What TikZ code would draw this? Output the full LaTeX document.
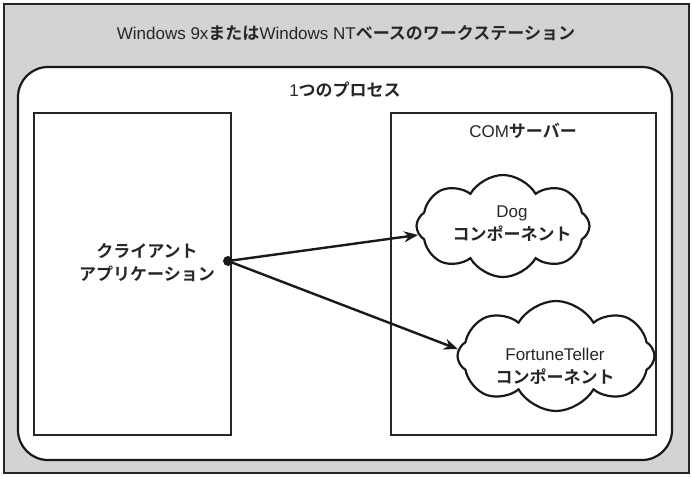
\documentclass[tikz,border=0pt]{standalone}
\usepackage{fontspec}
\setmainfont{Liberation Sans}
\newfontfamily\jp{Noto Sans CJK JP}[BoldFont={* Bold}]
\usetikzlibrary{shapes.symbols,arrows.meta}
\definecolor{bggray}{HTML}{D1D3D4}
\newcommand{\J}[1]{{\jp\bfseries #1}}
\tikzset{
  x=1pt,y=-1pt,
  frame/.style={draw=black!85,line width=1.8pt},
  lbl/.style={font=\fontsize{17}{23}\selectfont,text=black!85,align=center,inner sep=0pt},
  cloudshape/.style={cloud,cloud puffs=8,cloud puff arc=120,aspect=1.7,draw=black!90,line width=2.2pt,fill=white,inner sep=0pt},
  conn/.style={line width=2.4pt,draw=black!90,-{Stealth[length=14pt,width=11pt]}}
}
\begin{document}
\begin{tikzpicture}
\useasboundingbox (0,0) rectangle (692,477);
\fill[white] (0,0) rectangle (692,477);
\draw[frame,fill=bggray] (4,4) rectangle (689,473);
\node[lbl] (title) at (346,33) {Windows 9x\J{または}Windows NT\J{ベースのワークステーション}};
\draw[line width=2.2pt,draw=black!90,fill=white,rounded corners=30pt] (18,67) rectangle (672,460);
\node[lbl] (proc) at (345,90) {1\J{つのプロセス}};
\draw[frame,fill=white] (34,113) rectangle (231,435);
\draw[frame,fill=white] (391,113) rectangle (656,435);
\node[lbl] (com) at (523,131) {COM\J{サーバー}};
\node[lbl] (client) at (147,263) {\J{クライアント}\\\J{アプリケーション}};
\fill[black!90] (228,261) circle (5pt);
\coordinate (c) at (228,261);
\node[cloudshape,minimum width=173pt,minimum height=102pt] (dog) at (503,226) {};
\node[lbl] (dogt) at (512,224) {Dog\\\J{コンポーネント}};
\node[cloudshape,minimum width=197pt,minimum height=110pt] (fortune) at (556,356) {};
\node[lbl] (fortunet) at (555,366) {FortuneTeller\\\J{コンポーネント}};
\draw[conn] (c) -- (dog.186);
\draw[conn] (c) -- (fortune.176);
\end{tikzpicture}
\end{document}
